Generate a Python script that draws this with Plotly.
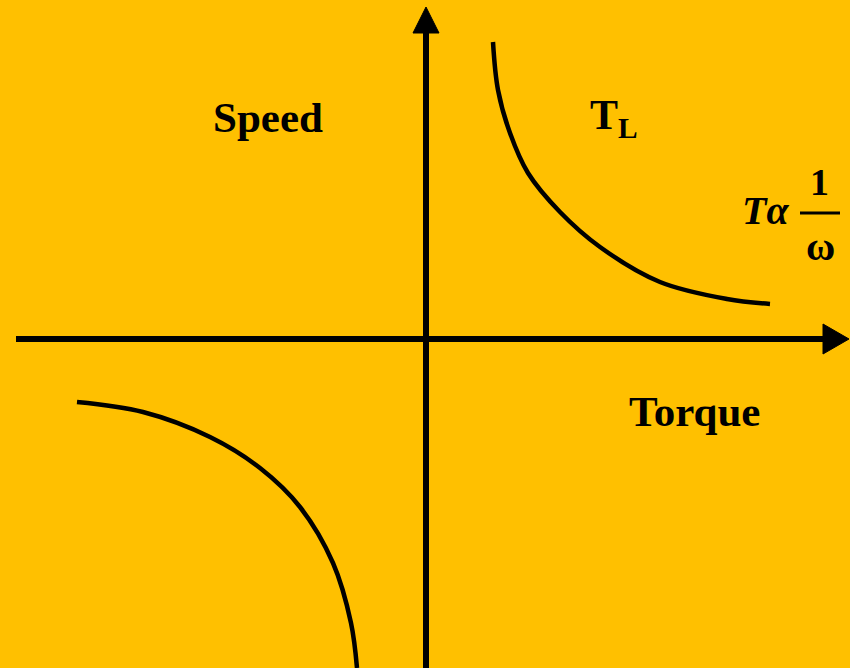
import plotly.graph_objects as go

BG = "#FFC000"

# Curve data (torque, speed) in chart units, origin at axis crossing
tl_torque = [67, 72, 84, 102, 134, 174, 234, 301, 344]
tl_speed = [297, 249, 206, 166, 127, 92, 57, 40, 35]

neg_torque = [-349, -283, -216, -166, -126, -93, -75, -69]
neg_speed = [-63, -73, -98, -129, -168, -224, -284, -329]

# Axis extents
x_axis_start, x_axis_end, x_tip = -410, 401, 423
y_axis_start, y_axis_end, y_tip = -329, 308, 332
X_RANGE = [-426, 424]
Y_RANGE = [-329, 339]

fig = go.Figure()

# axes lines
fig.add_trace(go.Scatter(x=[x_axis_start, x_axis_end], y=[0, 0], mode="lines",
                         line=dict(color="black", width=6), hoverinfo="skip"))
fig.add_trace(go.Scatter(x=[0, 0], y=[y_axis_start, y_axis_end], mode="lines",
                         line=dict(color="black", width=6), hoverinfo="skip"))

# curves
fig.add_trace(go.Scatter(x=tl_torque, y=tl_speed, mode="lines", line_shape="spline",
                         line=dict(color="black", width=4.5, smoothing=1.0), hoverinfo="skip"))
fig.add_trace(go.Scatter(x=neg_torque, y=neg_speed, mode="lines", line_shape="spline",
                         line=dict(color="black", width=4.5, smoothing=1.0), hoverinfo="skip"))

# arrowheads
fig.add_shape(type="path", xref="x", yref="y",
              path=f"M {x_tip},0 L {x_axis_end-4},15 L {x_axis_end-4},-15 Z",
              fillcolor="black", line=dict(color="black", width=1))
fig.add_shape(type="path", xref="x", yref="y",
              path=f"M 0,{y_tip} L -13,{y_axis_end-2} L 13,{y_axis_end-2} Z",
              fillcolor="black", line=dict(color="black", width=1))

# fraction bar
fig.add_shape(type="line", xref="x", yref="y", x0=374, x1=414, y0=126, y1=126,
              line=dict(color="black", width=3))

FONT = "Liberation Serif"
def txt(x, y, t, size):
    fig.add_annotation(x=x, y=y, text=t, showarrow=False, xref="x", yref="y",
                       font=dict(family=FONT, size=size, color="black"))

txt(-158, 222, "<b>Speed</b>", 43)
txt(188, 221, "<b>T<sub>L</sub></b>", 42)
txt(268, -72, "<b>Torque</b>", 43)
txt(339, 129, "<b><i>Tα</i></b>", 40)
txt(393, 157, "<b>1</b>", 38)
txt(394, 93, "<b>ω</b>", 40)

fig.update_layout(
    width=850, height=668,
    margin=dict(l=0, r=0, t=0, b=0),
    paper_bgcolor=BG, plot_bgcolor=BG,
    showlegend=False,
    xaxis=dict(visible=False, range=X_RANGE, fixedrange=True),
    yaxis=dict(visible=False, range=Y_RANGE, fixedrange=True),
)

fig.write_html("out.html",
               config={"displayModeBar": False, "staticPlot": True},
               post_script="document.body.style.margin='0';document.body.style.background='" + BG + "';")
